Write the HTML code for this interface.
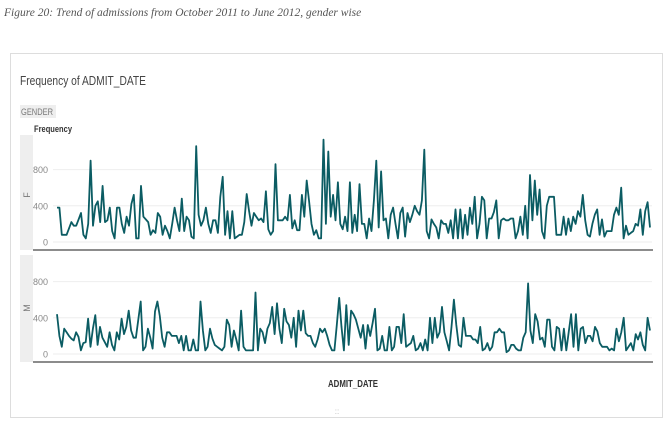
<!DOCTYPE html>
<html><head><meta charset="utf-8"><style>
body{margin:0;width:672px;height:430px;background:#fff;overflow:hidden;font-family:"Liberation Sans",sans-serif}
</style></head><body>
<svg width="672" height="430">
<text x="4" y="16" font-family="Liberation Serif" font-style="italic" font-size="11.5" fill="#555">Figure 20: Trend of admissions from October 2011 to June 2012, gender wise</text>
<rect x="10.5" y="53.5" width="652" height="364" fill="#fff" stroke="#ddd"/>
<text x="20" y="85" font-size="13" fill="#444" textLength="126" lengthAdjust="spacingAndGlyphs">Frequency of ADMIT_DATE</text>
<rect x="20" y="105" width="36" height="13" fill="#eee"/>
<text x="21" y="115" font-size="9" fill="#777" textLength="32" lengthAdjust="spacingAndGlyphs">GENDER</text>
<text x="34" y="132" font-size="9" font-weight="bold" fill="#333" textLength="38" lengthAdjust="spacingAndGlyphs">Frequency</text>
<rect x="20" y="135" width="13" height="115" fill="#eee"/>
<rect x="20" y="255" width="13" height="107" fill="#eee"/>
<text x="30" y="195" font-size="9" fill="#777" transform="rotate(-90 30 195)" text-anchor="middle">F</text>
<text x="30" y="308" font-size="9" fill="#777" transform="rotate(-90 30 308)" text-anchor="middle">M</text>
<g id="plots"></g>
<text x="328" y="387" font-size="10" font-weight="bold" fill="#333" textLength="50" lengthAdjust="spacingAndGlyphs">ADMIT_DATE</text>
<text x="337" y="414" font-size="8" fill="#bbb" text-anchor="middle">::</text>
</svg>
<script>
const ticks=[0,400,800];
const femaleCounts=[380,380,80,80,80,150,220,180,180,250,320,80,40,200,900,180,400,450,220,620,220,240,380,120,40,380,380,200,100,280,180,420,520,40,40,620,280,250,220,80,130,100,320,280,80,180,120,40,200,380,240,120,480,120,280,240,60,40,1060,300,180,240,380,200,100,240,240,100,500,720,80,340,40,340,40,60,80,80,220,530,340,180,320,280,240,260,220,560,140,80,120,860,240,240,240,280,240,520,150,240,130,130,520,280,680,450,200,80,130,40,40,1130,200,1000,280,520,240,660,200,140,280,120,660,100,300,120,640,200,200,40,260,120,460,900,160,780,240,260,40,300,380,200,40,320,380,60,320,220,300,400,340,300,460,1020,120,40,250,200,160,40,240,200,200,100,240,40,360,40,360,40,300,80,380,200,500,40,200,500,460,40,260,260,330,460,40,240,260,240,240,260,260,40,120,280,80,400,40,740,240,680,300,580,120,40,400,500,500,500,80,80,80,280,80,260,120,280,200,340,280,520,240,80,60,200,300,360,80,250,60,120,120,120,300,380,300,600,40,180,80,100,120,200,180,360,80,340,440,160];
const maleCounts=[440,200,80,280,240,200,170,150,240,190,40,120,130,390,80,280,430,100,300,180,130,80,240,100,40,240,160,390,220,300,480,260,180,180,380,580,40,80,280,180,60,470,580,420,180,80,240,240,200,200,200,120,200,40,200,40,40,160,40,40,580,260,40,80,280,170,100,80,60,40,80,380,320,80,260,160,40,480,80,40,40,40,40,680,40,280,240,120,280,340,520,220,560,280,120,500,360,320,180,400,80,480,260,480,230,200,200,120,80,160,280,240,280,200,100,40,40,320,620,300,40,540,100,480,440,380,280,180,320,60,320,200,340,500,40,60,200,40,40,300,40,80,300,300,120,440,80,100,120,200,40,60,120,40,160,40,400,120,400,180,240,520,240,140,40,300,600,320,100,80,400,200,200,200,160,160,120,300,40,60,120,40,80,240,240,280,240,240,20,40,100,100,60,40,40,180,240,780,260,120,440,360,160,180,80,380,380,80,40,300,280,40,280,40,240,440,80,440,40,280,300,120,200,200,140,300,250,120,80,80,80,40,60,40,280,140,240,400,40,80,120,40,220,160,240,100,40,400,260];
const NS='http://www.w3.org/2000/svg';
const g=document.getElementById('plots');
const x0=57,x1=650;
function panel(data,base,name){
  const y=v=>base-v*0.0905;
  const x=i=>x0+i*(x1-x0)/(data.length-1);
  ticks.forEach(t=>{
    const l=document.createElementNS(NS,'line');
    
    
    l.setAttribute('x1',x0-4);l.setAttribute('x2',x1+2);l.setAttribute('y1',y(t));l.setAttribute('y2',y(t));
    l.setAttribute('stroke','#eee');g.appendChild(l);
    const tx=document.createElementNS(NS,'text');
    
    
    tx.setAttribute('x',48);tx.setAttribute('y',y(t)+3.5);tx.setAttribute('text-anchor','end');
    tx.setAttribute('font-size','9');tx.setAttribute('fill','#888');tx.textContent=t;g.appendChild(tx);
  });
  const ax=document.createElementNS(NS,'line');
  
  
  ax.setAttribute('x1',33);ax.setAttribute('x2',653);ax.setAttribute('y1',base+8);ax.setAttribute('y2',base+8);
  ax.setAttribute('stroke','#666');ax.setAttribute('stroke-width','1.5');g.appendChild(ax);
  const p=document.createElementNS(NS,'polyline');
  
  
  p.setAttribute('points',data.map((v,i)=>x(i).toFixed(1)+','+y(v).toFixed(1)).join(' '));
  p.setAttribute('fill','none');p.setAttribute('stroke','#0b5c63');p.setAttribute('stroke-width','1.8');p.setAttribute('stroke-linejoin','round');
  g.appendChild(p);
}
panel(femaleCounts,242,'female');
panel(maleCounts,354,'male');
</script>
</body></html>
